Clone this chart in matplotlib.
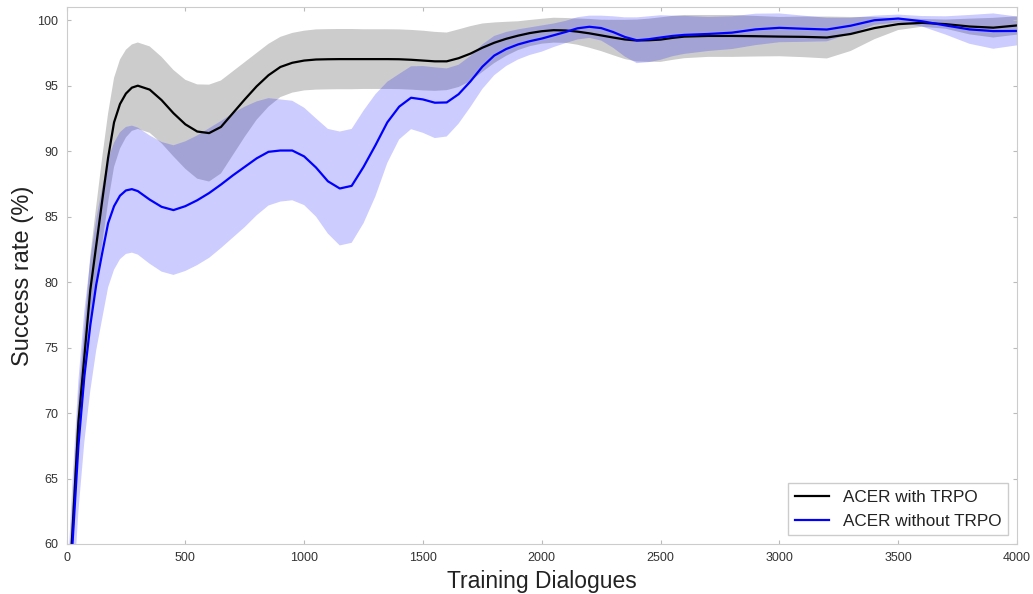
"""
Success rate vs. training dialogues for ACER with and without TRPO.

Mean curve per method plus a shaded band of one std either side.
Values were read by eye off the original figure.
"""

import numpy as np
import matplotlib
matplotlib.use("Agg")
import matplotlib.pyplot as plt

plt.rcParams["font.family"] = ["Liberation Sans", "DejaVu Sans"]

# x positions (training dialogues)
dialogues = [0, 25, 50, 75, 100, 125, 150, 175, 200, 225, 250, 275, 300,
             350, 400, 450, 500, 550, 600, 650, 700, 750, 800,
             850, 900, 950, 1000, 1050, 1100, 1150, 1200, 1250, 1300,
             1350, 1400, 1450, 1500, 1550, 1600, 1650, 1700, 1750, 1800,
             1850, 1900, 1950, 2000, 2050, 2100, 2150, 2200, 2250, 2300,
             2350, 2400, 2450, 2500, 2550, 2600,
             2700, 2800, 2900, 3000, 3100, 3200, 3300, 3400, 3500, 3600,
             3700, 3800, 3900, 4000]

# ACER with TRPO
trpo_mean = [53.0, 61.0, 69.3, 74.3, 79.4, 82.8, 86.2, 89.5, 92.2, 93.6,
             94.4, 94.85, 95.0,
             94.7, 93.9, 92.9, 92.05, 91.5, 91.38, 91.85, 92.9, 93.95, 94.95,
             95.8, 96.43, 96.75, 96.92, 97.0, 97.02, 97.03, 97.03, 97.03,
             97.03,
             97.03, 97.02, 96.98, 96.92, 96.86, 96.86, 97.1, 97.45, 97.9,
             98.28,
             98.58, 98.82, 99.02, 99.16, 99.24, 99.22, 99.13, 99.0, 98.84,
             98.68,
             98.53, 98.45, 98.47, 98.52, 98.65, 98.75,
             98.8, 98.8, 98.78, 98.75, 98.73, 98.68, 98.95, 99.4, 99.7, 99.8,
             99.7, 99.52, 99.43, 99.6]
trpo_std = [2.0, 2.0, 2.0, 2.2, 2.6, 3.0, 3.3, 3.4, 3.4, 3.4, 3.35, 3.3, 3.3,
            3.3, 3.3, 3.3, 3.4, 3.6, 3.7, 3.55, 3.2, 2.85, 2.55,
            2.4, 2.3, 2.28, 2.28, 2.3, 2.3, 2.3, 2.3, 2.28, 2.28,
            2.28, 2.28, 2.28, 2.28, 2.25, 2.2, 2.2, 2.1, 1.85, 1.55,
            1.3, 1.1, 1.0, 0.95, 0.95, 0.95, 1.0, 1.1, 1.2, 1.35,
            1.5, 1.6, 1.65, 1.7, 1.68, 1.65,
            1.6, 1.6, 1.55, 1.5, 1.55, 1.6, 1.3, 0.85, 0.45, 0.3, 0.35, 0.6,
            0.75, 0.7]

# ACER without TRPO
plain_mean = [51.5, 60.0, 67.5, 72.8, 76.7, 79.8, 82.2, 84.5, 85.8, 86.6,
              87.0, 87.1, 86.95,
              86.3, 85.75, 85.5, 85.8, 86.25, 86.8, 87.45, 88.15, 88.8, 89.45,
              89.95, 90.05, 90.05, 89.6, 88.75, 87.7, 87.15, 87.35, 88.8,
              90.45,
              92.2, 93.4, 94.08, 93.95, 93.7, 93.72, 94.35, 95.33, 96.45,
              97.3,
              97.8, 98.15, 98.4, 98.6, 98.85, 99.1, 99.38, 99.5, 99.4, 99.1,
              98.72, 98.47, 98.55, 98.68, 98.8, 98.88,
              98.95, 99.05, 99.3, 99.42, 99.35, 99.29, 99.58, 100.0, 100.13,
              99.92, 99.6, 99.3, 99.17, 99.18]
plain_std = [4.5, 4.8, 5.0, 5.0, 5.0, 5.0, 5.0, 4.9, 4.85, 4.85, 4.85, 4.85,
             4.85,
             4.9, 4.95, 4.95, 4.95, 4.95, 4.95, 4.85, 4.75, 4.6, 4.35,
             4.1, 3.9, 3.8, 3.72, 3.75, 4.0, 4.35, 4.35, 4.3, 3.9,
             3.1, 2.5, 2.4, 2.55, 2.7, 2.6, 2.25, 1.95, 1.7, 1.5,
             1.3, 1.15, 1.05, 1.0, 0.9, 0.85, 0.85, 0.85, 0.95, 1.2,
             1.5, 1.75, 1.75, 1.7, 1.55, 1.45,
             1.3, 1.25, 1.2, 1.1, 1.0, 0.9, 0.6, 0.35, 0.3, 0.4, 0.7, 1.1,
             1.35, 1.1]

x_ticks = [0, 500, 1000, 1500, 2000, 2500, 3000, 3500, 4000]
y_ticks = [60, 65, 70, 75, 80, 85, 90, 95, 100]


def main() -> None:
    x = np.array(dialogues)
    fig, ax = plt.subplots(figsize=(10.33, 5.94), dpi=100)
    fig.subplots_adjust(left=0.0644, right=0.9845, top=0.988, bottom=0.0842)

    series = [
        (trpo_mean, trpo_std, "black", "ACER with TRPO"),
        (plain_mean, plain_std, "blue", "ACER without TRPO"),
    ]
    # bands first, lines on top
    for mean, std, colour, label in series:
        mean = np.array(mean)
        std = np.array(std)
        ax.fill_between(x, mean - std, mean + std, color=colour, alpha=0.2,
                        linewidth=0)
    for mean, std, colour, label in series:
        ax.plot(x, mean, color=colour, linewidth=1.6, label=label)

    ax.set_xlim(0, 4000)
    ax.set_ylim(60, 101)
    ax.set_xticks(x_ticks)
    ax.set_yticks(y_ticks)
    ax.tick_params(direction="in", top=True, right=True, length=3,
                   color="#bbbbbb", labelsize=9, labelcolor="#333333", pad=6)
    for spine in ax.spines.values():
        spine.set_color("#cccccc")

    ax.set_xlabel("Training Dialogues", fontsize=16.5, color="#222222",
                  labelpad=4)
    ax.set_ylabel("Success rate (%)", fontsize=17, color="#222222",
                  labelpad=2)

    leg = ax.legend(loc="lower right", fontsize=12.3, fancybox=False,
                    framealpha=1, edgecolor="#cccccc", handlelength=2.0,
                    borderaxespad=0.5)
    for t in leg.get_texts():
        t.set_color("#222222")

    fig.savefig("out.png", dpi=100)


if __name__ == "__main__":
    main()
